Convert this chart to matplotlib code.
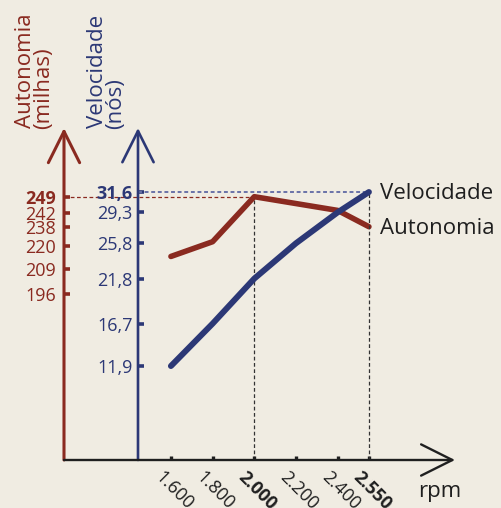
import numpy as np
import matplotlib
matplotlib.use('Agg')
import matplotlib.pyplot as plt
from matplotlib.transforms import offset_copy

plt.rcParams['font.family'] = ['Open Sans', 'DejaVu Sans']

# data
rpm = [1600, 1800, 2000, 2200, 2400, 2550]
rpm_labels = ['1.600', '1.800', '2.000', '2.200', '2.400', '2.550']
bold_rpm = [2000, 2550]
velocidade = [11.9, 16.7, 21.8, 25.8, 29.3, 31.6]
velocidade_ticks = [11.9, 16.7, 21.8, 25.8, 29.3, 31.6]
autonomia_rpm = [1600, 1800, 2000, 2400, 2550]
autonomia = [215, 224, 249, 243, 238]
autonomia_ticks = [196, 209, 220, 238, 242, 249]

RED = '#8a2a20'
BLUE = '#2c3876'
BLUE_DASH = '#6a72a8'
INK = '#1f1f1f'
BG = '#f0ece2'

W, H = 501, 508

# the autonomy axis in the original is hand spaced, follow its tick rows (pixels from top)
red_rows = H - np.array([294, 269, 246, 226.7, 212.7, 196.7])
red_vals = np.array(autonomia_ticks, float)


def _pw(v, xs, ys):
    v = np.asarray(v, float)
    out = np.interp(v, xs, ys)
    s0 = (ys[1] - ys[0]) / (xs[1] - xs[0])
    s1 = (ys[-1] - ys[-2]) / (xs[-1] - xs[-2])
    out = np.where(v < xs[0], ys[0] + (v - xs[0]) * s0, out)
    out = np.where(v > xs[-1], ys[-1] + (v - xs[-1]) * s1, out)
    return out


def red_fwd(v):
    return _pw(v, red_vals, red_rows)


def red_inv(t):
    return _pw(t, red_rows, red_vals)


fig = plt.figure(figsize=(W / 100, H / 100), dpi=100, facecolor=BG)
ax = fig.add_axes([64 / W, 48 / H, 391 / W, 332 / H])
ax2 = ax.twinx()
ax.set_zorder(ax2.get_zorder() + 1)
ax.patch.set_visible(False)
ax2.patch.set_visible(False)

BLUE_AX = (138 - 64) / 391

ax.set_xlim(1087, 2963)
ax.set_ylim(1.26, 38.85)
ax2.set_yscale('function', functions=(red_fwd, red_inv))
ax2.set_ylim(float(red_inv(H - 460)), float(red_inv(H - 128)))

for a in (ax, ax2):
    for s in a.spines.values():
        s.set_visible(False)
ax.spines['left'].set_position(('axes', BLUE_AX))
ax2.yaxis.tick_left()

# series
ax.plot(rpm, velocidade, color=BLUE, lw=4.3, solid_capstyle='round', zorder=5)
ax2.plot(autonomia_rpm, autonomia, color=RED, lw=4.0, solid_capstyle='round', zorder=5)

# guide lines
x_lo, x_hi = ax.get_xlim()
i_pk = int(np.argmax(autonomia))
ax2.hlines(autonomia[i_pk], x_lo, autonomia_rpm[i_pk], color=RED, lw=0.9,
           linestyles=(0, (3, 2)), zorder=2)
ax.hlines(velocidade[-1], x_lo + BLUE_AX * (x_hi - x_lo), rpm[-1], color=BLUE_DASH,
          lw=1.4, linestyles=(0, (2, 1.4)), zorder=2)
ax2.vlines(autonomia_rpm[i_pk], ax2.get_ylim()[0], autonomia[i_pk], color='#333333',
           lw=0.9, linestyles=(0, (3, 2)), zorder=2)
ax.vlines(rpm[-1], ax.get_ylim()[0], velocidade[-1], color='#333333',
          lw=0.9, linestyles=(0, (3, 2)), zorder=2)

# axis arrows
def axis_arrow(a, start, end, color, lw):
    a.annotate('', xy=end, xytext=start, xycoords='axes fraction',
               arrowprops=dict(arrowstyle='->,head_length=1.0,head_width=0.5',
                               color=color, lw=lw, shrinkA=0, shrinkB=0,
                               mutation_scale=22.5),
               annotation_clip=False)

axis_arrow(ax2, (0, 0), (0, 1), RED, 2.2)
axis_arrow(ax, (BLUE_AX, 0), (BLUE_AX, 1), BLUE, 1.9)
axis_arrow(ax, (0, 0), (1, 0), INK, 1.7)

# ticks
ax.set_yticks(velocidade_ticks, [f'{v:.1f}'.replace('.', ',') for v in velocidade_ticks])
ax.tick_params(axis='y', direction='in', length=4.3, width=2.6, color=BLUE,
               labelcolor=BLUE, labelsize=13, pad=3.8)
ax.get_yticklabels()[-1].set_fontweight('bold')

ax2.set_yticks(autonomia_ticks, [str(v) for v in autonomia_ticks])
ax2.yaxis.set_minor_locator(matplotlib.ticker.NullLocator())
ax2.tick_params(axis='y', direction='in', length=4.3, width=2.6, color=RED,
                labelcolor=RED, labelsize=13, pad=5.8, left=True, right=False,
                labelleft=True, labelright=False)
ax2.get_yticklabels()[-1].set_fontweight('bold')

ax.set_xticks(rpm)
ax.tick_params(axis='x', direction='in', length=3, width=2.4, color=INK, labelbottom=False)
lbl_tr = offset_copy(ax.get_xaxis_transform(), fig=fig, x=-7, y=-8, units='dots')
for x, lbl in zip(rpm, rpm_labels):
    ax.text(x, 0, lbl, transform=lbl_tr, rotation=-45, rotation_mode='anchor',
            ha='left', va='top', fontsize=13, color=INK,
            fontweight='bold' if x in bold_rpm else 'normal')

# series labels
ax.annotate('Velocidade', xy=(rpm[-1], velocidade[-1]), xytext=(7.9, -5),
            textcoords='offset points', ha='left', va='baseline', fontsize=16, color=INK)
ax2.annotate('Autonomia', xy=(autonomia_rpm[-1], autonomia[-1]), xytext=(7.9, -5),
             textcoords='offset points', ha='left', va='baseline', fontsize=16, color=INK)
fig.text(418 / W, 1 - 497 / H, 'rpm', ha='left', va='baseline', fontsize=16, color=INK)

# axis titles (rotated)
for x, y, s, c in [(31, 128.5, 'Autonomia', RED), (49, 129, '(milhas)', RED),
                   (103, 128.5, 'Velocidade', BLUE), (121, 129, '(nós)', BLUE)]:
    fig.text(x / W, 1 - y / H, s, rotation=90, rotation_mode='anchor',
             ha='left', va='baseline', fontsize=16, color=c)

fig.savefig('out.png', dpi=100, facecolor=BG)
